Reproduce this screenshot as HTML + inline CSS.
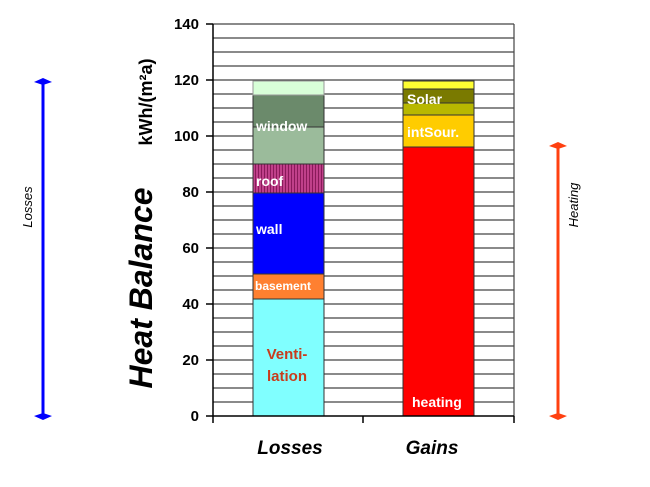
<!DOCTYPE html>
<html><head><meta charset="utf-8"><style>
html,body{margin:0;padding:0;background:#fff;}
svg{display:block;font-family:"Liberation Sans",Arial,sans-serif;}
</style></head><body>
<svg width="650" height="487" viewBox="0 0 650 487" xmlns="http://www.w3.org/2000/svg">
<defs>
<pattern id="rs" width="3" height="4" patternUnits="userSpaceOnUse"><rect width="3" height="4" fill="#c0408a"/><rect width="1" height="4" fill="#8a1a5a"/></pattern>
</defs>
<g stroke="#444" stroke-width="1.2">
<line x1="213" y1="24" x2="514" y2="24"/><line x1="213" y1="38" x2="514" y2="38"/><line x1="213" y1="52" x2="514" y2="52"/><line x1="213" y1="66" x2="514" y2="66"/><line x1="213" y1="80" x2="514" y2="80"/><line x1="213" y1="94" x2="514" y2="94"/><line x1="213" y1="108" x2="514" y2="108"/><line x1="213" y1="122" x2="514" y2="122"/><line x1="213" y1="136" x2="514" y2="136"/><line x1="213" y1="150" x2="514" y2="150"/><line x1="213" y1="164" x2="514" y2="164"/><line x1="213" y1="178" x2="514" y2="178"/><line x1="213" y1="192" x2="514" y2="192"/><line x1="213" y1="206" x2="514" y2="206"/><line x1="213" y1="220" x2="514" y2="220"/><line x1="213" y1="234" x2="514" y2="234"/><line x1="213" y1="248" x2="514" y2="248"/><line x1="213" y1="262" x2="514" y2="262"/><line x1="213" y1="276" x2="514" y2="276"/><line x1="213" y1="290" x2="514" y2="290"/><line x1="213" y1="304" x2="514" y2="304"/><line x1="213" y1="318" x2="514" y2="318"/><line x1="213" y1="332" x2="514" y2="332"/><line x1="213" y1="346" x2="514" y2="346"/><line x1="213" y1="360" x2="514" y2="360"/><line x1="213" y1="374" x2="514" y2="374"/><line x1="213" y1="388" x2="514" y2="388"/><line x1="213" y1="402" x2="514" y2="402"/>
<line x1="514" y1="24" x2="514" y2="416"/>
</g>
<g stroke="#333" stroke-width="1">
<rect x="253" y="299" width="71" height="117" fill="#80ffff"/>
<rect x="253" y="274" width="71" height="25" fill="#ff8030"/>
<rect x="253" y="193" width="71" height="81" fill="#0000ff"/>
<rect x="253" y="164" width="71" height="29" fill="url(#rs)"/>
<rect x="253" y="127" width="71" height="37" fill="#9bbb9b"/>
<rect x="253" y="95" width="71" height="32" fill="#6b8a6b"/>
<rect x="253" y="81" width="71" height="14" fill="#d8ffd8" stroke="#999"/>
</g>
<g stroke="#333" stroke-width="1">
<rect x="403" y="147" width="71" height="269" fill="#ff0000"/>
<rect x="403" y="115" width="71" height="32" fill="#ffcc00"/>
<rect x="403" y="103" width="71" height="12" fill="#b8b800"/>
<rect x="403" y="89" width="71" height="14" fill="#7a7a00"/>
<rect x="403" y="81" width="71" height="8" fill="#ffff33"/>
</g>
<g fill="#fff" font-weight="bold" font-size="14">
<text x="256" y="131">window</text>
<text x="256" y="186">roof</text>
<text x="256" y="234">wall</text>
<text x="255" y="290" font-size="12">basement</text>
<text x="407" y="104">Solar</text>
<text x="407" y="137">intSour.</text>
<text x="412" y="407">heating</text>
</g>
<text x="287" y="359" fill="#c83c1c" font-weight="bold" font-size="15" text-anchor="middle">Venti-</text>
<text x="287" y="381" fill="#c83c1c" font-weight="bold" font-size="15" text-anchor="middle">lation</text>
<g stroke="#000" stroke-width="1.5">
<line x1="213" y1="24" x2="213" y2="423"/>
<line x1="206" y1="416" x2="514" y2="416"/>
<line x1="363" y1="416" x2="363" y2="423"/>
<line x1="514" y1="416" x2="514" y2="423"/>
<line x1="206" y1="24" x2="213" y2="24"/><line x1="206" y1="80" x2="213" y2="80"/><line x1="206" y1="136" x2="213" y2="136"/><line x1="206" y1="192" x2="213" y2="192"/><line x1="206" y1="248" x2="213" y2="248"/><line x1="206" y1="304" x2="213" y2="304"/><line x1="206" y1="360" x2="213" y2="360"/>
</g>
<g font-weight="bold" font-size="15" text-anchor="end" fill="#000">
<text x="199" y="29">140</text><text x="199" y="85">120</text><text x="199" y="141">100</text><text x="199" y="197">80</text><text x="199" y="253">60</text><text x="199" y="309">40</text><text x="199" y="365">20</text><text x="199" y="421">0</text>
</g>
<text x="290" y="454" font-weight="bold" font-style="italic" font-size="19" text-anchor="middle">Losses</text>
<text x="432" y="454" font-weight="bold" font-style="italic" font-size="19" text-anchor="middle">Gains</text>
<text transform="translate(152,288) rotate(-90)" font-weight="bold" font-style="italic" font-size="32" text-anchor="middle">Heat Balance</text>
<text transform="translate(152,102) rotate(-90)" font-weight="bold" font-size="18" text-anchor="middle">kWh/(m²a)</text>
<line x1="43" y1="83" x2="43" y2="415" stroke="#0000ff" stroke-width="3"/>
<polygon points="34,82 43,78 52,82 43,85" fill="#0000ff"/>
<polygon points="34,416 43,413 52,416 43,420" fill="#0000ff"/>
<text transform="translate(32,207) rotate(-90)" font-style="italic" font-size="13" text-anchor="middle">Losses</text>
<line x1="558" y1="147" x2="558" y2="415" stroke="#ff4010" stroke-width="3"/>
<polygon points="549,146 558,142 567,146 558,149" fill="#ff4010"/>
<polygon points="549,416 558,413 567,416 558,420" fill="#ff4010"/>
<text transform="translate(578,205) rotate(-90)" font-style="italic" font-size="13" text-anchor="middle">Heating</text>
</svg>
</body></html>
